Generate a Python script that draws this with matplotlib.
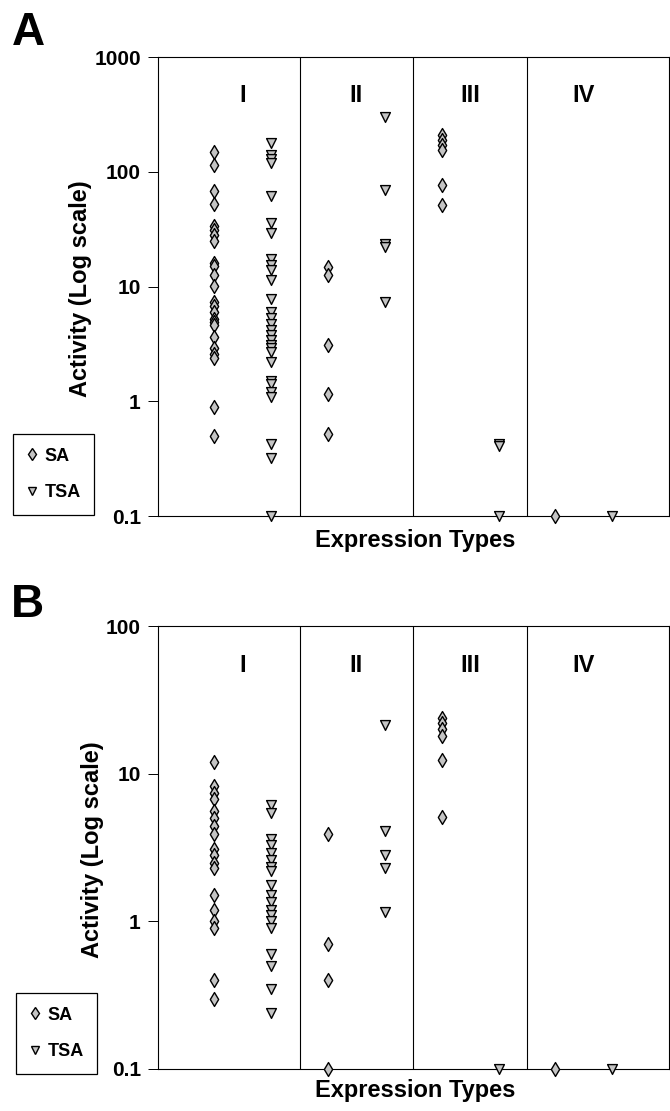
import matplotlib
matplotlib.use("Agg")
import matplotlib.pyplot as plt
from matplotlib.lines import Line2D

plt.rcParams['font.family'] = ['Liberation Sans', 'DejaVu Sans']
plt.rcParams['font.weight'] = 'bold'

categories = ['I', 'II', 'III', 'IV']
series = ['SA', 'TSA']

# Panel A values (values at 0.1 = not detected, drawn on the floor)
a_sa_I = [148, 114, 68, 52, 34, 31, 28, 25, 16, 15, 12.5, 10.2, 7.4, 6.8, 6.0,
          5.2, 4.9, 4.6, 3.6, 2.9, 2.6, 2.4, 0.9, 0.5]
a_tsa_I = [178, 140, 130, 120, 62, 36, 29, 17.5, 15.5, 14, 11.3, 7.8, 6.0, 5.3,
           4.7, 4.2, 3.8, 3.4, 3.1, 2.9, 2.7, 2.2, 1.5, 1.4, 1.2, 1.1, 0.42,
           0.32, 0.1]
a_sa_II = [14.8, 12.5, 3.1, 1.15, 0.52]
a_tsa_II = [300, 70, 23.5, 22, 7.4]
a_sa_III = [210, 190, 170, 155, 77, 51]
a_tsa_III = [0.42, 0.41, 0.1]
a_sa_IV = [0.1]
a_tsa_IV = [0.1]

# Panel B values
b_sa_I = [12, 8.2, 7.4, 6.7, 5.6, 5.0, 4.4, 3.9, 3.1, 2.8, 2.5, 2.3, 1.5, 1.2,
          1.0, 0.9, 0.4, 0.3]
b_tsa_I = [6.1, 5.4, 3.6, 3.3, 2.9, 2.6, 2.35, 2.2, 1.75, 1.5, 1.35, 1.2, 1.1,
           1.0, 0.9, 0.6, 0.5, 0.35, 0.24]
b_sa_II = [3.9, 0.7, 0.4, 0.1]
b_tsa_II = [21.5, 4.1, 2.8, 2.3, 1.15]
b_sa_III = [24, 22, 20, 18, 12.3, 5.1]
b_tsa_III = [0.1]
b_sa_IV = [0.1]
b_tsa_IV = [0.1]

a_ticks = [0.1, 1, 10, 100, 1000]
a_ticklabels = ['0.1', '1', '10', '100', '1000']
b_ticks = [0.1, 1, 10, 100]
b_ticklabels = ['0.1', '1', '10', '100']

W, H = 670, 1111
fig = plt.figure(figsize=(W / 100, H / 100), dpi=100)

FACE = '#c4c4c4'


def px_axes(left, top, right, bottom):
    return [left / W, 1 - bottom / H, (right - left) / W, (bottom - top) / H]


def draw_panel(ax, sa_groups, tsa_groups, ticks, ticklabels, ylim, label_y):
    for k, cat in enumerate(categories):
        xs = 2 * k + 1
        xt = 2 * k + 2
        ax.scatter([xs] * len(sa_groups[k]), sa_groups[k], marker='d', s=50,
                   facecolor=FACE, edgecolor='black', linewidths=1.0,
                   clip_on=False, zorder=3)
        ax.scatter([xt] * len(tsa_groups[k]), tsa_groups[k], marker='v', s=50,
                   facecolor=FACE, edgecolor='black', linewidths=1.0,
                   clip_on=False, zorder=3)
        ax.text(2 * k + 1.5, label_y, cat, transform=ax.get_xaxis_transform(),
                ha='center', va='center', fontsize=17, fontweight='bold')
    for xd in [2.5, 4.5, 6.5]:
        ax.axvline(xd, color='black', lw=0.8, zorder=1)
    ax.set_yscale('log')
    ax.set_ylim(*ylim)
    ax.set_xlim(0, 9)
    ax.set_yticks(ticks)
    ax.set_yticklabels(ticklabels)
    ax.yaxis.set_minor_locator(matplotlib.ticker.NullLocator())
    ax.set_xticks([])
    ax.tick_params(axis='y', direction='out', length=7, width=0.7, pad=5,
                   labelsize=15)
    for lab in ax.get_yticklabels():
        lab.set_fontweight('bold')
    for sp in ax.spines.values():
        sp.set_linewidth(0.8)


axA = fig.add_axes(px_axes(157.5, 57, 669, 516))
draw_panel(axA,
           [a_sa_I, a_sa_II, a_sa_III, a_sa_IV],
           [a_tsa_I, a_tsa_II, a_tsa_III, a_tsa_IV],
           a_ticks, a_ticklabels, (0.1, 1000), 0.917)

axB = fig.add_axes(px_axes(157.5, 626, 669, 1069))
draw_panel(axB,
           [b_sa_I, b_sa_II, b_sa_III, b_sa_IV],
           [b_tsa_I, b_tsa_II, b_tsa_III, b_tsa_IV],
           b_ticks, b_ticklabels, (0.1, 100), 0.91)

# panel letters
fig.text(28 / W, 1 - 33 / H, 'A', fontsize=33, fontweight='bold',
         ha='center', va='center')
fig.text(27 / W, 1 - 605 / H, 'B', fontsize=33, fontweight='bold',
         ha='center', va='center')

# axis titles
fig.text(80 / W, 1 - 289 / H, 'Activity (Log scale)', rotation=90,
         fontsize=17, fontweight='bold', ha='center', va='center')
fig.text(93 / W, 1 - 850 / H, 'Activity (Log scale)', rotation=90,
         fontsize=17, fontweight='bold', ha='center', va='center')
fig.text(415 / W, 1 - 541 / H, 'Expression Types', fontsize=17,
         fontweight='bold', ha='center', va='center')
fig.text(415 / W, 1 - 1091 / H, 'Expression Types', fontsize=17,
         fontweight='bold', ha='center', va='center')

# legends
handles = [
    Line2D([], [], marker='d', ls='none', ms=6, mfc=FACE, mec='black',
           mew=1.0, label=series[0]),
    Line2D([], [], marker='v', ls='none', ms=6, mfc=FACE, mec='black',
           mew=1.0, label=series[1]),
]
for top, left in [(434, 13), (993, 16)]:
    leg = fig.legend(handles=handles, loc='upper left',
                     bbox_to_anchor=(left / W, 1 - top / H),
                     frameon=True, fancybox=False, framealpha=1,
                     edgecolor='black', borderpad=0.75, labelspacing=1.1,
                     handlelength=0.6, handletextpad=0.4,
                     prop={'weight': 'bold', 'size': 13},
                     borderaxespad=0)
    leg.get_frame().set_linewidth(0.9)

fig.savefig('out.png', dpi=100)
